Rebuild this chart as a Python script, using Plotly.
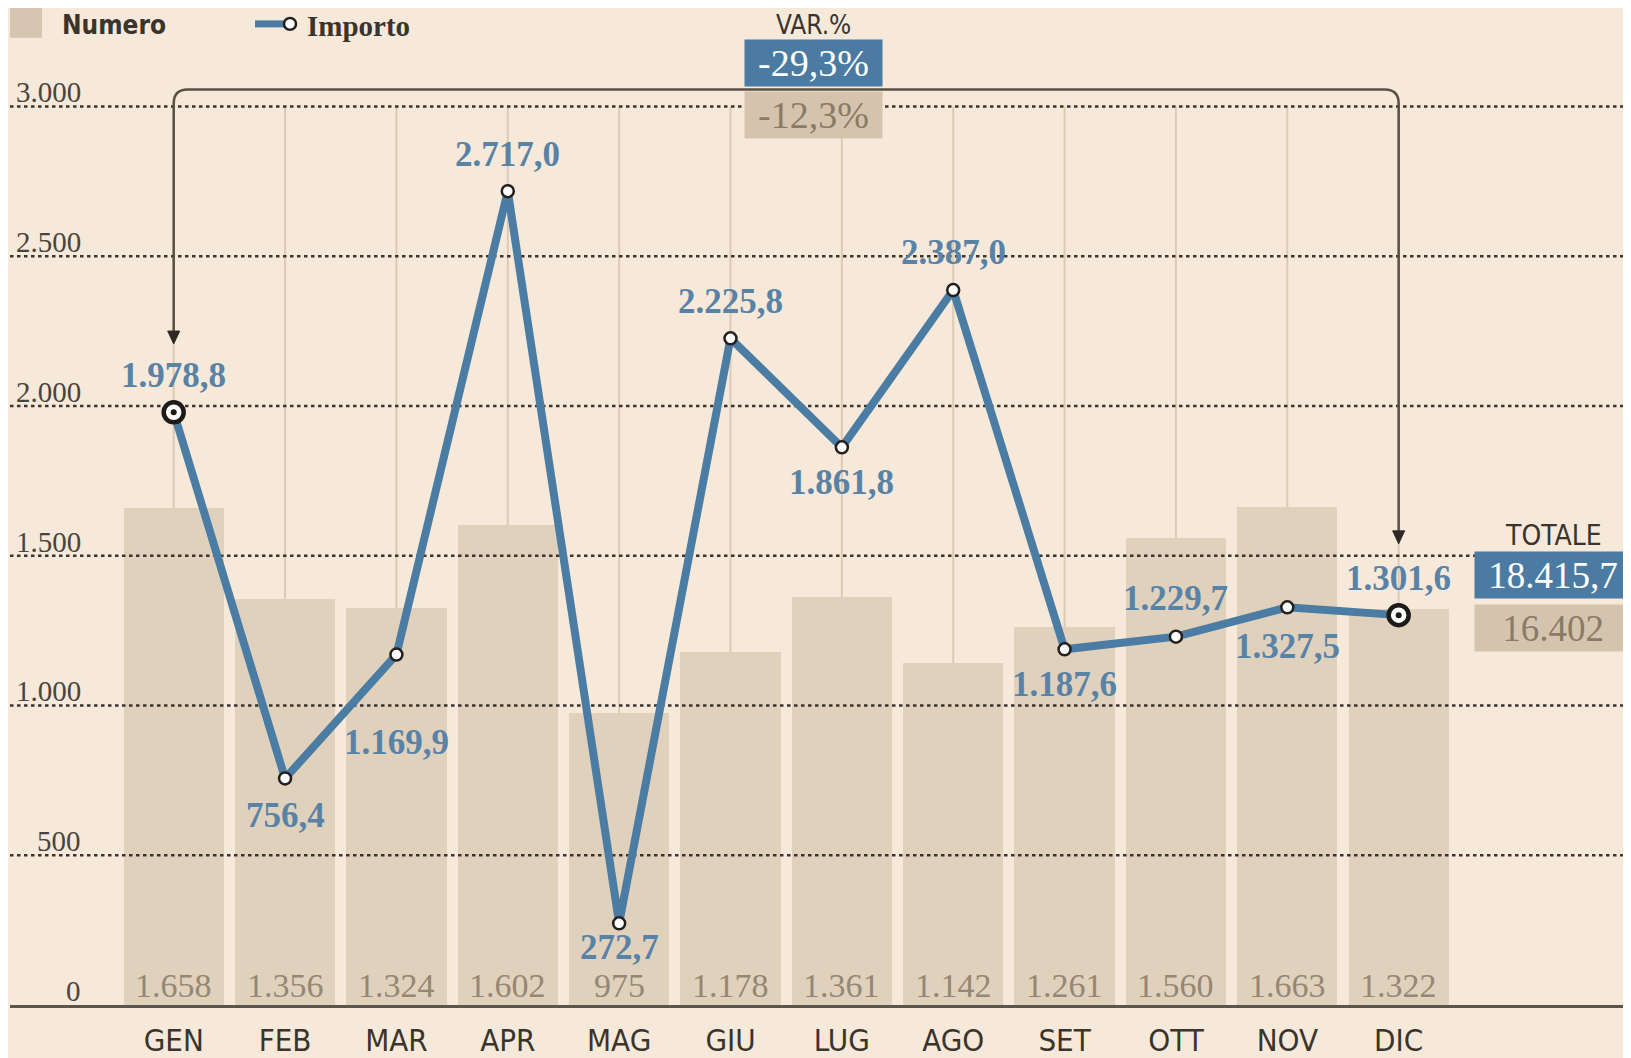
import plotly.graph_objects as go

# ---------------- data ----------------
months = ["GEN", "FEB", "MAR", "APR", "MAG", "GIU", "LUG", "AGO", "SET", "OTT", "NOV", "DIC"]
numero = [1658, 1356, 1324, 1602, 975, 1178, 1361, 1142, 1261, 1560, 1663, 1322]
importo = [1978.8, 756.4, 1169.9, 2717.0, 272.7, 2225.8, 1861.8, 2387.0, 1187.6, 1229.7, 1327.5, 1301.6]
y_ticks = [0, 500, 1000, 1500, 2000, 2500, 3000]
var_importo = "-29,3%"
var_numero = "-12,3%"
tot_importo = 18415.7
tot_numero = 16402

# label offsets (px, + = above the point)
label_shift = [37, -37, -88, 37, -24, 37, -35, 38, -35, 38, -39, 37]


def fmt(v, dec=0):
    s = f"{v:,.{dec}f}"
    return s.replace(",", "X").replace(".", ",").replace("X", ".")


# ---------------- geometry / style ----------------
OFF = 8                      # page body margin
W, H = 1631 - OFF, 1058 - OFF
L = 2
PH = 1011 - OFF              # plot bottom (axis line)
B = H - PH
SC = 904 / 3000              # px per unit
x0c, dxc = 173.7 - OFF, 111.36
xr = [(L - x0c) / dxc, (W - x0c) / dxc]
ytop = PH / SC


def px(X):
    return (X - OFF - L) / (W - L)


def py(Y):
    return (PH - (Y - OFF)) / PH


def dy(Y):
    return (PH - (Y - OFF)) / SC


BG = "#f6e9d9"
BAR = "#e0d1bd"
BLUE = "#4b7ca3"
BLUE_TXT = "#5883a6"
TAN_TXT = "#968773"
DARK = "#3a342e"
SERIF = "Liberation Serif"
COND = "DejaVu Sans Condensed"

xs = list(range(len(months)))

fig = go.Figure()

fig.add_trace(go.Bar(x=xs, y=numero, width=0.9, marker=dict(color=BAR, line=dict(width=0)),
                     hoverinfo="skip", showlegend=False))

# dotted grid drawn above the bars but under the line
gx, gy = [], []
for t in y_ticks[1:]:
    gx += [xr[0], xr[1], None]
    gy += [t, t, None]
fig.add_trace(go.Scatter(x=gx, y=gy, mode="lines", line=dict(color="#3a3430", width=2.5, dash="3.5px,3.5px"),
                         hoverinfo="skip", showlegend=False))

fig.add_trace(go.Scatter(x=xs, y=importo, mode="lines+markers",
                         line=dict(color=BLUE, width=8),
                         marker=dict(size=12, color="white", line=dict(color="#231f1c", width=2.5)),
                         hoverinfo="skip", showlegend=False))

ends = [0, len(months) - 1]
fig.add_trace(go.Scatter(x=ends, y=[importo[i] for i in ends], mode="markers",
                         marker=dict(size=20, color="white", line=dict(color="#1d1a17", width=4.5)),
                         hoverinfo="skip", showlegend=False))
fig.add_trace(go.Scatter(x=ends, y=[importo[i] for i in ends], mode="markers",
                         marker=dict(size=6, color="#1d1a17"),
                         hoverinfo="skip", showlegend=False))

shapes = []
# faint vertical centre lines
for i in xs:
    shapes.append(dict(type="line", xref="x", yref="y", x0=i, x1=i, y0=0, y1=3000,
                       line=dict(color="#dccab4", width=2), layer="below"))

# bracket from GEN to DIC
yb = dy(90)
rx, ry = 14 / dxc, 14 / SC
tipL = dy(346)
tipR = dy(547)
ah_w, ah_h = 6 / dxc, 13 / SC
xe = len(months) - 1
path = (f"M 0,{tipL + ah_h} L 0,{yb - ry} Q 0,{yb} {rx},{yb} L {xe - rx},{yb} "
        f"Q {xe},{yb} {xe},{yb - ry} L {xe},{tipR + ah_h}")
shapes.append(dict(type="path", xref="x", yref="y", path=path, line=dict(color="#5a5046", width=2.5)))
for xt, yt in [(0, tipL), (xe, tipR)]:
    shapes.append(dict(type="path", xref="x", yref="y",
                       path=f"M {xt - ah_w},{yt + ah_h} L {xt + ah_w},{yt + ah_h} L {xt},{yt} Z",
                       fillcolor="#2e2924", line=dict(color="#2e2924", width=1)))

# legend swatches
shapes.append(dict(type="rect", xref="paper", yref="paper", x0=px(10), x1=px(42), y0=py(38), y1=py(8),
                   fillcolor="#d6c6b1", line=dict(width=0)))
shapes.append(dict(type="line", xref="paper", yref="paper", x0=px(255), x1=px(286), y0=py(24), y1=py(24),
                   line=dict(color=BLUE, width=7)))
shapes.append(dict(type="circle", xref="paper", yref="paper", x0=px(284), x1=px(296), y0=py(30), y1=py(18),
                   fillcolor="white", line=dict(color="#231f1c", width=2.5)))

ann = []
ann.append(dict(xref="paper", yref="paper", x=px(60), y=py(25), xanchor="left", yanchor="middle",
                text="Numero", showarrow=False,
                font=dict(family=COND, size=26, color=DARK, weight="bold")))
ann.append(dict(xref="paper", yref="paper", x=px(305), y=py(26), xanchor="left", yanchor="middle",
                text="Importo", showarrow=False,
                font=dict(family=SERIF, size=29, color=DARK, weight="bold")))

# y tick labels
for t in y_ticks:
    ann.append(dict(xref="paper", yref="y", x=px(83), y=t, xanchor="right", yanchor="middle",
                    yshift=14, text=fmt(t), showarrow=False,
                    font=dict(family=SERIF, size=29, color="#4a443e")))

# importo labels
for i, v in enumerate(importo):
    ann.append(dict(xref="x", yref="y", x=i, y=v, yshift=label_shift[i], xanchor="center",
                    yanchor="middle", text=fmt(v, 1), showarrow=False,
                    font=dict(family=SERIF, size=35, color=BLUE_TXT, weight="bold")))

# numero labels
for i, v in enumerate(numero):
    ann.append(dict(xref="x", yref="y", x=i, y=0, yshift=20, xanchor="center", yanchor="middle",
                    text=fmt(v), showarrow=False,
                    font=dict(family=SERIF, size=34, color=TAN_TXT)))

# VAR.% block
ann.append(dict(xref="paper", yref="paper", x=px(813), y=py(25), text="VAR.%", showarrow=False,
                xanchor="center", yanchor="middle", font=dict(family=COND, size=26, color=DARK)))
ann.append(dict(xref="paper", yref="paper", x=px(813.5), y=py(63), text=var_importo, showarrow=False,
                xanchor="center", yanchor="middle", width=137, height=46, borderpad=0, bgcolor="#4b7ba3",
                font=dict(family=SERIF, size=38, color="white")))
ann.append(dict(xref="paper", yref="paper", x=px(813.5), y=py(116), text=var_numero, showarrow=False,
                xanchor="center", yanchor="middle", width=137, height=46, borderpad=0, bgcolor="#d5c4ad",
                font=dict(family=SERIF, size=38, color="#8b7a66")))

# TOTALE block
ann.append(dict(xref="paper", yref="paper", x=px(1553), y=py(539), text="TOTALE", showarrow=False,
                xanchor="center", yanchor="middle", font=dict(family=COND, size=28, color=DARK)))
ann.append(dict(xref="paper", yref="paper", x=px(1553), y=py(578.5), text=fmt(tot_importo, 1), showarrow=False,
                xanchor="center", yanchor="middle", width=156, height=46, borderpad=0, bgcolor="#4b7ba3",
                font=dict(family=SERIF, size=37, color="white")))
ann.append(dict(xref="paper", yref="paper", x=px(1553), y=py(632), text=fmt(tot_numero), showarrow=False,
                xanchor="center", yanchor="middle", width=156, height=46, borderpad=0, bgcolor="#d5c4ad",
                font=dict(family=SERIF, size=37, color="#8b7a66")))

fig.update_layout(
    width=W, height=H,
    margin=dict(l=L, r=0, t=0, b=B, pad=0),
    paper_bgcolor=BG, plot_bgcolor=BG,
    showlegend=False, bargap=0,
    shapes=shapes, annotations=ann,
    xaxis=dict(range=xr, tickmode="array", tickvals=xs, ticktext=months, showgrid=False, zeroline=False,
               showline=True, linecolor="#5c554c", linewidth=3, ticks="", ticklabelstandoff=6,
               tickfont=dict(family=COND, size=31, color=DARK), fixedrange=True),
    yaxis=dict(range=[0, ytop], showgrid=False, zeroline=False, showticklabels=False, showline=False,
               fixedrange=True),
)

fig.write_html("out.html")
